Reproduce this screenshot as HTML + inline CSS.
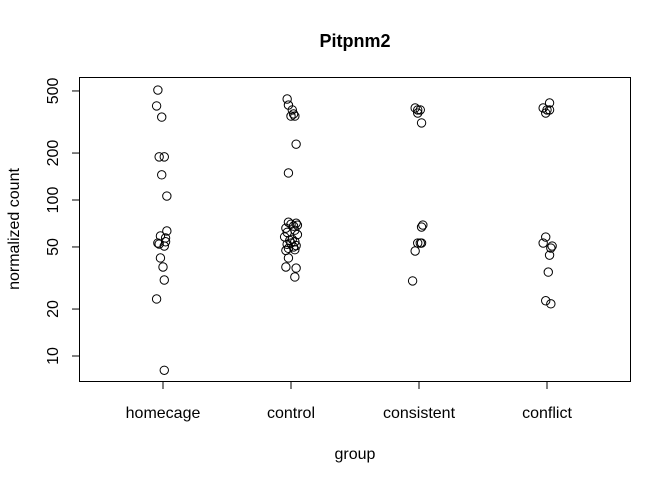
<!DOCTYPE html>
<html><head><meta charset="utf-8"><style>body{margin:0;background:#fff}svg{display:block}text{font-family:"Liberation Sans",sans-serif;fill:#000}</style></head>
<body>
<svg id="chart" width="672" height="480" viewBox="0 0 672 480" xmlns="http://www.w3.org/2000/svg">
<text x="355" y="47" font-size="18" font-weight="bold" text-anchor="middle">Pitpnm2</text>
<rect x="79.5" y="77.5" width="551" height="304" fill="none" stroke="#000" stroke-width="1"/>
<g id="axes"></g>
<g id="points"></g>
<text x="355" y="459" font-size="16" text-anchor="middle">group</text>
<text transform="translate(19,229) rotate(-90)" font-size="16" text-anchor="middle">normalized count</text>
</svg>
<script>
const categories = ["homecage","control","consistent","conflict"];
const yTicks = [10,20,50,100,200,500];
const homecageValues = [507,401,340,189,189,145,106,63.3,58.8,57.1,53,52.2,50.7,54,42.5,37.2,30.7,23.2,8.1];
const homecageJitter = [-0.04,-0.05,-0.01,-0.03,0.01,-0.01,0.03,0.03,-0.02,0.02,-0.04,-0.03,0.01,0.02,-0.02,0.0,0.01,-0.05,0.01];
const controlValues = [444,406,378,345,345,356,228,149,
72,70,68,71,69,66,64,62,60,58,56,55,54,53,52,51,50,49,48,47.5,
42.5,37.2,36.6,32.1];
const controlJitter = [-0.03,-0.02,0.01,0.0,0.03,0.02,0.04,-0.02,
-0.02,0.0,0.02,0.04,0.05,-0.04,0.03,-0.03,0.05,-0.05,0.01,-0.01,0.03,0.0,-0.03,0.04,0.02,-0.02,0.03,-0.04,
-0.02,-0.04,0.04,0.03];
const consistentValues = [389,378,378,361,312,69.1,67.1,53,53,53,47.1,30.3];
const consistentJitter = [-0.03,-0.01,0.01,-0.01,0.02,0.03,0.02,-0.01,0.01,0.02,-0.03,-0.05];
const conflictValues = [419,389,378,361,378,57.9,53,50.7,49.2,44.3,34.5,22.6,21.6];
const conflictJitter = [0.02,-0.03,0.0,-0.01,0.02,-0.01,-0.03,0.04,0.03,0.02,0.01,-0.01,0.03];
const groupValues = [homecageValues, controlValues, consistentValues, conflictValues];
const groupJitter = [homecageJitter, controlJitter, consistentJitter, conflictJitter];
const X = g => 163 + g*128;
const Y = v => 356 - (Math.log10(v) - 1) * 156;
const NS = "http://www.w3.org/2000/svg";
const axes = document.getElementById('axes');
const pts = document.getElementById('points');
function mk(tag, attrs){const e=document.createElementNS(NS,tag);for(const k in attrs)e.setAttribute(k,attrs[k]);return e;}
const ya = mk('line',{x1:79.5,x2:79.5,y1:Y(yTicks[0]),y2:Y(yTicks[yTicks.length-1]),stroke:'#000'});


axes.appendChild(ya);
yTicks.forEach(t=>{
  const y=Y(t);
  const l=mk('line',{x1:72,x2:79.5,y1:y,y2:y,stroke:'#000'});
  
  
  axes.appendChild(l);
  const tx=mk('text',{transform:`translate(58,${y}) rotate(-90)`,'font-size':16,'text-anchor':'middle'});
  tx.textContent=t;
  
  
  axes.appendChild(tx);
});
const xa = mk('line',{x1:X(0),x2:X(3),y1:381.5,y2:381.5,stroke:'#000'});


axes.appendChild(xa);
categories.forEach((c,i)=>{
  const x=X(i);
  const l=mk('line',{x1:x,x2:x,y1:381.5,y2:389,stroke:'#000'});
  
  
  axes.appendChild(l);
  const tx=mk('text',{x:x,y:418,'font-size':16,'text-anchor':'middle'});
  tx.textContent=c;
  
  
  axes.appendChild(tx);
});
groupValues.forEach((vals,g)=>{
  vals.forEach((v,i)=>{
    const c=mk('circle',{cx:X(g+groupJitter[g][i]),cy:Y(v),r:4.2,fill:'none',stroke:'#000','stroke-width':1});
    
    
    pts.appendChild(c);
  });
});
</script>
</body></html>
